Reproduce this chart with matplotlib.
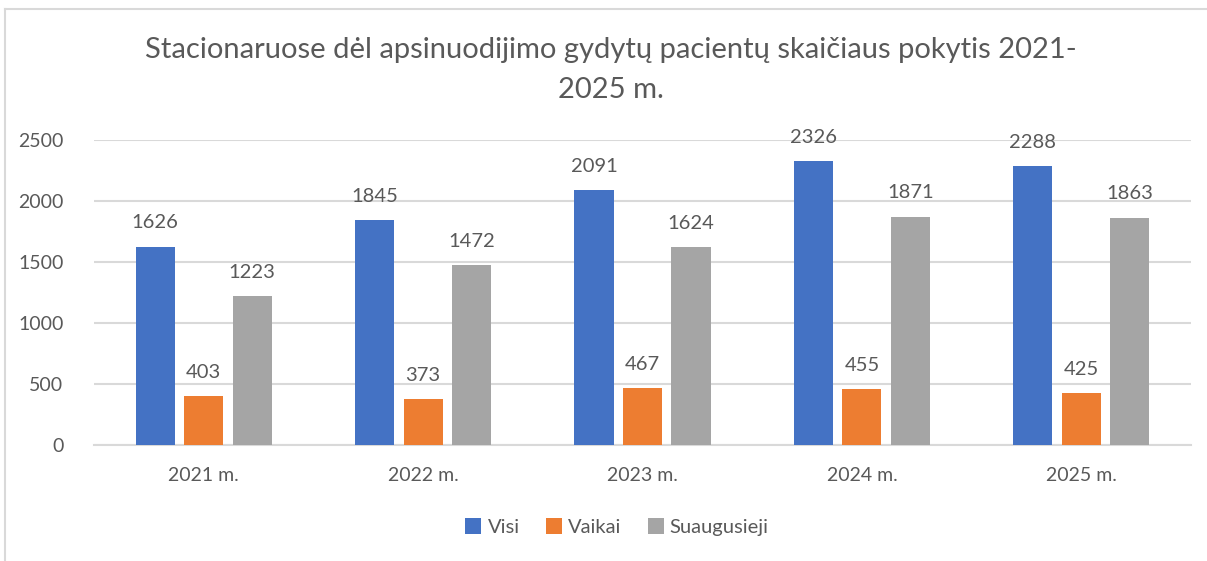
import matplotlib.pyplot as plt
import numpy as np
from matplotlib.lines import Line2D

plt.rcParams['font.family'] = ['Lato', 'DejaVu Sans']

years = ['2021 m.', '2022 m.', '2023 m.', '2024 m.', '2025 m.']
visi = [1626, 1845, 2091, 2326, 2288]
vaikai = [403, 373, 467, 455, 425]
suaugusieji = [1223, 1472, 1624, 1871, 1863]

series = [('Visi', visi, '#4472C4'),
          ('Vaikai', vaikai, '#ED7D31'),
          ('Suaugusieji', suaugusieji, '#A5A5A5')]

txt = '#595959'
W, H = 1207, 561

fig = plt.figure(figsize=(W / 100, H / 100), dpi=100)
ax = fig.add_axes([94 / W, 1 - 445 / H, (1191 - 94) / W, (445 - 140) / H])

x = np.arange(len(years))
bw = 0.178
step = 0.221
for i, (name, vals, col) in enumerate(series):
    pos = x + (i - 1) * step
    bars = ax.bar(pos, vals, width=bw, color=col, label=name, zorder=3)
    for p, v in zip(pos, vals):
        ax.annotate(str(v), (p, v), xytext=(0, 11), textcoords='offset points',
                    ha='center', va='bottom', fontsize=14.5, color=txt)

ax.set_xlim(-0.5, len(years) - 0.5)
ax.set_ylim(0, 2500)
ax.set_yticks(range(0, 2501, 500))
ax.set_xticks(x)
ax.set_xticklabels(years)
ax.yaxis.grid(True, color='#d9d9d9', linewidth=1.5, zorder=0)
ax.set_axisbelow(True)
for s in ['top', 'right', 'left']:
    ax.spines[s].set_visible(False)
ax.spines['bottom'].set_color('#d9d9d9')
ax.spines['bottom'].set_linewidth(1.5)
ax.tick_params(axis='both', length=0, labelsize=14, colors=txt)
ax.tick_params(axis='x', pad=16)
ax.tick_params(axis='y', pad=22)

fig.text(611 / W, 1 - 50 / H,
         'Stacionaruose dėl apsinuodijimo gydytų pacientų skaičiaus pokytis 2021-',
         ha='center', va='center', fontsize=21, color=txt)
fig.text(611 / W, 1 - 90 / H, '2025 m.', ha='center', va='center',
         fontsize=21, color=txt)

ax.legend(loc='center', bbox_to_anchor=(617 / W, 1 - 527 / H),
          bbox_transform=fig.transFigure, ncol=3, frameon=False,
          fontsize=14.5, labelcolor=txt, handlelength=0.8, handleheight=0.8,
          handletextpad=0.3, columnspacing=1.3)

# chart border
fig.add_artist(Line2D([5 / W, 1], [1 - 9 / H, 1 - 9 / H], color='#d9d9d9',
                      linewidth=1.5, transform=fig.transFigure))
fig.add_artist(Line2D([5 / W, 5 / W], [0, 1 - 9 / H], color='#d9d9d9',
                      linewidth=1.5, transform=fig.transFigure))

fig.savefig('out.png', dpi=100)
